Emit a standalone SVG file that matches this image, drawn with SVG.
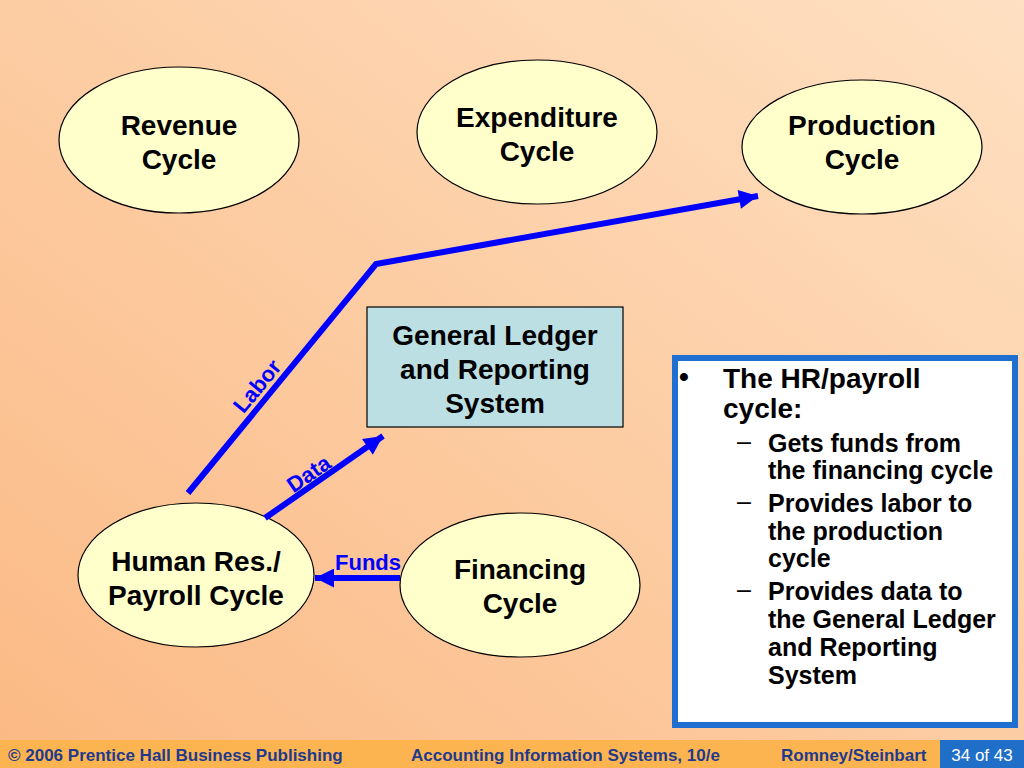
<svg xmlns="http://www.w3.org/2000/svg" width="1024" height="768" viewBox="0 0 1024 768">
  <defs>
    <linearGradient id="bg" x1="0" y1="1" x2="1" y2="0">
      <stop offset="0" stop-color="#fbb984"/>
      <stop offset="1" stop-color="#fee0c2"/>
    </linearGradient>
    <marker id="ah" viewBox="0 0 10 10" refX="10" refY="5" markerWidth="22" markerHeight="19" markerUnits="userSpaceOnUse" orient="auto">
      <path d="M0,0 L10,5 L0,10 Z" fill="#0000ff"/>
    </marker>
    <style>
      .node ellipse { fill: #ffffcc; stroke: #000; stroke-width: 1.2; }
      .nt { font-family: "Liberation Sans", Arial, sans-serif; font-weight: bold; font-size: 28px; fill: #000; text-anchor: middle; }
      .conn { fill: none; stroke: #0000ff; stroke-width: 6; }
      .cl { font-family: "Liberation Sans", Arial, sans-serif; font-weight: bold; font-size: 22px; fill: #0000ff; text-anchor: middle; }
      .bt { font-family: "Liberation Sans", Arial, sans-serif; font-weight: bold; fill: #000; }
      .dash { font-family: "Liberation Sans", Arial, sans-serif; font-weight: normal; fill: #000; }
      .ft { font-family: "Liberation Sans", Arial, sans-serif; font-weight: bold; font-size: 17px; fill: #1f3a8c; }
    </style>
  </defs>
  <rect x="0" y="0" width="1024" height="768" fill="url(#bg)"/>

  <g id="revenue" class="node">
    <ellipse cx="179" cy="140" rx="120" ry="73"/>
    <text class="nt" x="179" y="135">Revenue</text>
    <text class="nt" x="179" y="169">Cycle</text>
  </g>
  <g id="expenditure" class="node">
    <ellipse cx="537" cy="132" rx="120" ry="72"/>
    <text class="nt" x="537" y="127">Expenditure</text>
    <text class="nt" x="537" y="161">Cycle</text>
  </g>
  <g id="production" class="node">
    <ellipse cx="862" cy="147" rx="120" ry="67"/>
    <text class="nt" x="862" y="135">Production</text>
    <text class="nt" x="862" y="169">Cycle</text>
  </g>
  <g id="general-ledger" class="node">
    <rect x="367" y="307" width="256" height="120" fill="#bcdfe4" stroke="#000" stroke-width="1.2"/>
    <text class="nt" x="495" y="345">General Ledger</text>
    <text class="nt" x="495" y="379">and Reporting</text>
    <text class="nt" x="495" y="413">System</text>
  </g>
  <g id="hr-payroll" class="node">
    <ellipse cx="196" cy="575" rx="118" ry="72"/>
    <text class="nt" x="196" y="571">Human Res./</text>
    <text class="nt" x="196" y="605">Payroll Cycle</text>
  </g>
  <g id="financing" class="node">
    <ellipse cx="520" cy="585" rx="120" ry="72"/>
    <text class="nt" x="520" y="579">Financing</text>
    <text class="nt" x="520" y="613">Cycle</text>
  </g>

  <g id="connectors">
    <path class="conn" d="M188,493 L376,264 L758,196" marker-end="url(#ah)"/>
    <path class="conn" d="M265,518 L383,436" marker-end="url(#ah)"/>
    <path class="conn" d="M400,578 L315,578" marker-end="url(#ah)"/>
    <text class="cl" transform="translate(263,391) rotate(-50.6)">Labor</text>
    <text class="cl" transform="translate(313,480) rotate(-34.8)">Data</text>
    <text class="cl" x="368" y="570">Funds</text>
  </g>

  <g id="notes">
    <rect x="675" y="358" width="340" height="367" fill="#ffffff" stroke="#1f6fd0" stroke-width="6"/>
    <text class="bt" font-size="28" x="679" y="386">•</text>
    <text class="bt" font-size="28" x="723" y="388">The HR/payroll</text>
    <text class="bt" font-size="28" x="723" y="418">cycle:</text>
    <g font-size="25">
      <text class="dash" x="737" y="450">–</text>
      <text class="bt" x="768" y="452">Gets funds from</text>
      <text class="bt" x="768" y="479">the financing cycle</text>
      <text class="dash" x="737" y="510">–</text>
      <text class="bt" x="768" y="512">Provides labor to</text>
      <text class="bt" x="768" y="540">the production</text>
      <text class="bt" x="768" y="567">cycle</text>
      <text class="dash" x="737" y="598">–</text>
      <text class="bt" x="768" y="600">Provides data to</text>
      <text class="bt" x="768" y="628">the General Ledger</text>
      <text class="bt" x="768" y="656">and Reporting</text>
      <text class="bt" x="768" y="684">System</text>
    </g>
  </g>

  <g id="footer">
    <rect x="0" y="740" width="1024" height="28" fill="#fbb450"/>
    <text class="ft" x="8" y="761">© 2006 Prentice Hall Business Publishing</text>
    <text class="ft" x="411" y="761">Accounting Information Systems, 10/e</text>
    <text class="ft" x="781" y="761">Romney/Steinbart</text>
    <rect x="940" y="740" width="84" height="28" fill="#1f6fc8"/>
    <text x="982" y="761" font-family="Liberation Sans, Arial, sans-serif" font-size="17" fill="#ffffff" text-anchor="middle">34 of 43</text>
  </g>
</svg>
